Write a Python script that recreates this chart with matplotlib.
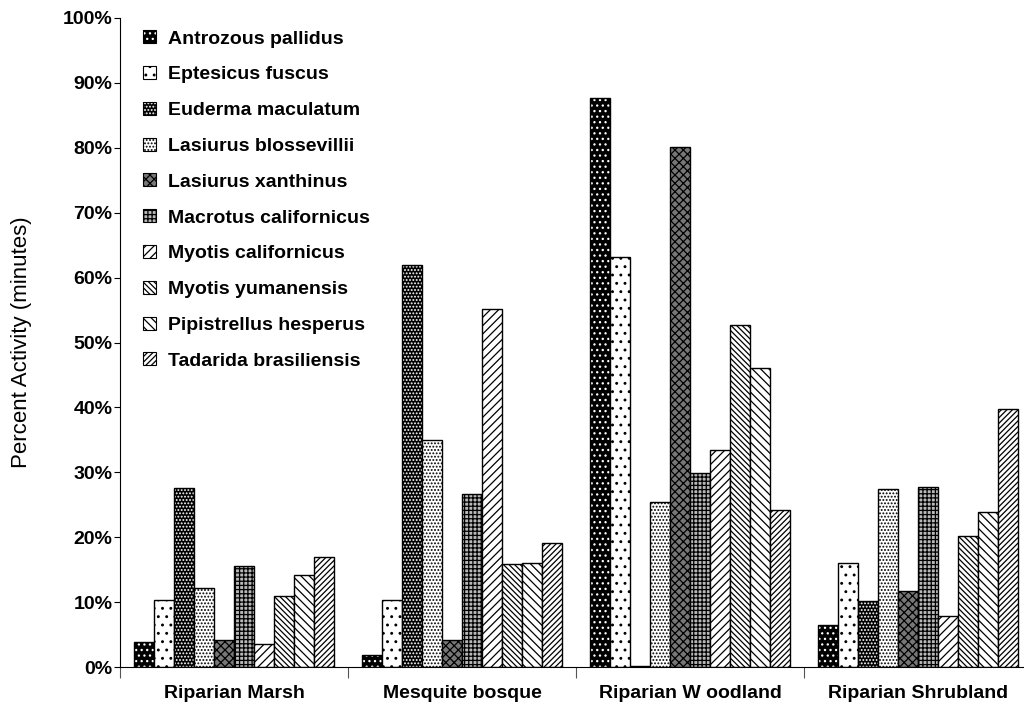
import numpy as np
import matplotlib
matplotlib.use('Agg')
from matplotlib import pyplot as plt
from matplotlib.patches import Patch

habitats = ['Riparian Marsh', 'Mesquite bosque', 'Riparian W oodland', 'Riparian Shrubland']
species = ['Antrozous pallidus', 'Eptesicus fuscus', 'Euderma maculatum',
           'Lasiurus blossevillii', 'Lasiurus xanthinus', 'Macrotus californicus',
           'Myotis californicus', 'Myotis yumanensis', 'Pipistrellus hesperus',
           'Tadarida brasiliensis']

# percent activity, one list per species (marsh, bosque, woodland, shrubland)
antrozous = [3.9, 1.8, 87.6, 6.5]
eptesicus = [10.4, 10.3, 63.2, 16.0]
euderma = [27.6, 62.0, 0.2, 10.1]
las_blos = [12.2, 34.9, 25.4, 27.4]
las_xant = [4.1, 4.2, 80.1, 11.7]
macrotus = [15.6, 26.7, 29.9, 27.8]
myo_cal = [3.5, 55.2, 33.4, 7.8]
myo_yum = [11.0, 15.9, 52.7, 20.2]
pipistrellus = [14.1, 16.1, 46.0, 23.9]
tadarida = [17.0, 19.1, 24.2, 39.7]
values = [antrozous, eptesicus, euderma, las_blos, las_xant, macrotus,
          myo_cal, myo_yum, pipistrellus, tadarida]

# (face, hatch colour, hatch)
styles = [('black', 'white', '...'),
          ('white', 'black', '..'),
          ('black', 'white', '.....'),
          ('white', 'black', '.....'),
          ('#777777', 'black', 'xxxx'),
          ('#b8b8b8', 'black', '++++'),
          ('white', 'black', '////'),
          ('white', 'black', '\\\\\\\\\\\\'),
          ('white', 'black', '\\\\\\\\'),
          ('white', 'black', '//////')]

plt.rcParams['font.family'] = ['Liberation Sans', 'DejaVu Sans']
plt.rcParams['hatch.linewidth'] = 0.9

fig = plt.figure(figsize=(10.24, 7.12), dpi=100)
ax = fig.add_axes((120/1024, 45/712, 912/1024, 649/712))

n = len(species)
bw = 0.0873
x = np.arange(len(habitats))
handles = []
for i, (vals, (fc, hc, h)) in enumerate(zip(values, styles)):
    pos = x + (i - (n-1)/2)*bw
    ax.bar(pos, vals, bw, color=fc, edgecolor=hc, hatch=h, linewidth=0)
    ax.bar(pos, vals, bw, fill=False, edgecolor='black', linewidth=1)
    handles.append((Patch(facecolor=fc, edgecolor=hc, hatch=h, linewidth=0),
                    Patch(fill=False, edgecolor='black', linewidth=0.8)))

ax.set_xlim(-0.5, len(habitats)-0.5)
ax.set_ylim(0, 100)
ax.set_yticks(np.arange(0, 101, 10))
ax.set_yticklabels(['{}%'.format(v) for v in range(0, 101, 10)],
                   fontsize=14, fontweight='bold')
ax.set_xticks(np.arange(len(habitats)+1)-0.5)
ax.set_xticklabels([])
ax.set_xticks(x, minor=True)
ax.set_xticklabels(habitats, minor=True, fontsize=14, fontweight='bold')
ax.tick_params(axis='x', which='major', length=8, direction='out', color='#555555')
ax.tick_params(axis='x', which='minor', length=0, pad=13)
ax.tick_params(axis='y', length=4, pad=1.5, direction='out')
ax.spines['top'].set_visible(False)
ax.spines['right'].set_visible(False)
ax.set_ylabel('Percent Activity (minutes)', fontsize=16)
ax.yaxis.set_label_coords(-0.097, 0.5)

ax.legend(handles, species, loc='upper left', bbox_to_anchor=(0.017, 0.993),
          frameon=False, prop={'size': 14, 'weight': 'bold'},
          handlelength=0.65, handleheight=0.65, handletextpad=0.6,
          labelspacing=0.95, borderaxespad=0)

plt.savefig('out.png')
